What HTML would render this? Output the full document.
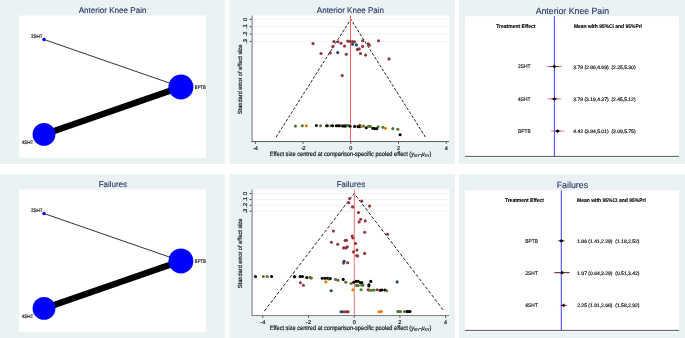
<!DOCTYPE html>
<html><head><meta charset="utf-8"><title>Network meta-analysis</title>
<style>
html,body{margin:0;padding:0;background:#fff;width:685px;height:338px;overflow:hidden}
svg{display:block;font-family:"Liberation Sans", sans-serif;will-change:transform;text-rendering:geometricPrecision}
</style></head><body>
<svg width="685" height="338" viewBox="0 0 685 338">
<rect x="0" y="0" width="685" height="338" fill="#fff"/>
<rect x="0" y="0" width="225" height="164" fill="#EAF2F3"/>
<rect x="19" y="15.5" width="187" height="142.3" fill="#fff"/>
<text x="78.65" y="13.1" font-size="8.2" fill="#1f2d5c" stroke="#1f2d5c" stroke-width="0.1" textLength="67.799" lengthAdjust="spacingAndGlyphs">Anterior Knee Pain</text>
<line x1="44" y1="39.5" x2="180.9" y2="87" stroke="#1a1a1a" stroke-width="0.9" />
<line x1="44" y1="134.5" x2="180.9" y2="87" stroke="#000" stroke-width="6.2" />
<circle cx="44" cy="39.5" r="1.7" fill="#0000ff"/>
<circle cx="180.9" cy="87" r="12.5" fill="#0000ff"/>
<circle cx="44" cy="134.4" r="11.4" fill="#0000ff"/>
<text x="30.9" y="37.9" font-size="4.9" fill="#111" stroke="#111" stroke-width="0.16" textLength="11.7" lengthAdjust="spacingAndGlyphs">2SHT</text>
<text x="194.8" y="88.75" font-size="5.2" fill="#111" stroke="#111" stroke-width="0.18" textLength="11.1" lengthAdjust="spacingAndGlyphs">BPTB</text>
<text x="21.7" y="144.0" font-size="4.9" fill="#111" stroke="#111" stroke-width="0.16" textLength="11.7" lengthAdjust="spacingAndGlyphs">4SHT</text>
<rect x="0" y="174" width="225" height="164" fill="#EAF2F3"/>
<rect x="19" y="189.5" width="187" height="142.3" fill="#fff"/>
<text x="98.65" y="187.1" font-size="8.2" fill="#1f2d5c" stroke="#1f2d5c" stroke-width="0.1" textLength="28.399" lengthAdjust="spacingAndGlyphs">Failures</text>
<line x1="44" y1="213.5" x2="180.9" y2="261" stroke="#1a1a1a" stroke-width="0.9" />
<line x1="44" y1="308.5" x2="180.9" y2="261" stroke="#000" stroke-width="6.2" />
<circle cx="44" cy="213.5" r="1.7" fill="#0000ff"/>
<circle cx="180.9" cy="261" r="12.5" fill="#0000ff"/>
<circle cx="44" cy="308.4" r="11.4" fill="#0000ff"/>
<text x="30.9" y="211.9" font-size="4.9" fill="#111" stroke="#111" stroke-width="0.16" textLength="11.7" lengthAdjust="spacingAndGlyphs">2SHT</text>
<text x="194.8" y="262.75" font-size="5.2" fill="#111" stroke="#111" stroke-width="0.18" textLength="11.1" lengthAdjust="spacingAndGlyphs">BPTB</text>
<text x="21.7" y="318.0" font-size="4.9" fill="#111" stroke="#111" stroke-width="0.16" textLength="11.7" lengthAdjust="spacingAndGlyphs">4SHT</text>
<rect x="229.5" y="0" width="225.5" height="164" fill="#EAF2F3"/>
<rect x="252" y="15.5" width="197" height="125.5" fill="#fff"/>
<line x1="252" y1="19.3" x2="449" y2="19.3" stroke="#e6eef0" stroke-width="0.7" />
<line x1="252" y1="26.68" x2="449" y2="26.68" stroke="#e6eef0" stroke-width="0.7" />
<line x1="252" y1="34.06" x2="449" y2="34.06" stroke="#e6eef0" stroke-width="0.7" />
<line x1="252" y1="41.44" x2="449" y2="41.44" stroke="#e6eef0" stroke-width="0.7" />
<text x="316.85" y="13.1" font-size="8.2" fill="#1f2d5c" stroke="#1f2d5c" stroke-width="0.1" textLength="67.199" lengthAdjust="spacingAndGlyphs">Anterior Knee Pain</text>
<polyline points="276.200,137.0 350.8,19.3 425.4,137.0" fill="none" stroke="#222" stroke-width="1.0" stroke-dasharray="2.9 1.7"/>
<line x1="350.5" y1="15.5" x2="350.5" y2="141.0" stroke="#ff5c5c" stroke-width="1.0" />
<circle cx="313.0" cy="43.6" r="1.55" fill="#90353b"/>
<circle cx="333.9" cy="41.5" r="1.55" fill="#90353b"/>
<circle cx="337.9" cy="41.8" r="1.55" fill="#90353b"/>
<circle cx="341.0" cy="43.3" r="1.55" fill="#90353b"/>
<circle cx="344.5" cy="46.0" r="1.55" fill="#90353b"/>
<circle cx="332.8" cy="46.6" r="1.55" fill="#90353b"/>
<circle cx="321.0" cy="53.5" r="1.55" fill="#90353b"/>
<circle cx="330.3" cy="52.9" r="1.55" fill="#90353b"/>
<circle cx="346.3" cy="54.2" r="1.55" fill="#90353b"/>
<circle cx="347.7" cy="41.1" r="1.55" fill="#90353b"/>
<circle cx="350.0" cy="41.5" r="1.55" fill="#90353b"/>
<circle cx="352.5" cy="41.5" r="1.55" fill="#90353b"/>
<circle cx="354.5" cy="41.8" r="1.55" fill="#90353b"/>
<circle cx="362.6" cy="40.8" r="1.55" fill="#90353b"/>
<circle cx="368.3" cy="43.8" r="1.55" fill="#90353b"/>
<circle cx="369.4" cy="45.3" r="1.55" fill="#90353b"/>
<circle cx="362.6" cy="46.4" r="1.55" fill="#90353b"/>
<circle cx="357.4" cy="49.4" r="1.55" fill="#90353b"/>
<circle cx="359.2" cy="48.9" r="1.55" fill="#90353b"/>
<circle cx="360.5" cy="53.5" r="1.55" fill="#90353b"/>
<circle cx="365.6" cy="55.1" r="1.55" fill="#90353b"/>
<circle cx="378.6" cy="40.8" r="1.55" fill="#90353b"/>
<circle cx="389.0" cy="58.9" r="1.55" fill="#90353b"/>
<circle cx="342.2" cy="75.6" r="1.55" fill="#90353b"/>
<circle cx="337.7" cy="52.6" r="1.55" fill="#1a476f"/>
<circle cx="352.6" cy="44.3" r="1.55" fill="#1a476f"/>
<circle cx="356.4" cy="44.9" r="1.55" fill="#1a476f"/>
<circle cx="295.4" cy="126.1" r="1.55" fill="#55752f"/>
<circle cx="302.3" cy="125.7" r="1.55" fill="#55752f"/>
<circle cx="306.3" cy="125.7" r="1.55" fill="#e37e00"/>
<circle cx="316.3" cy="125.5" r="1.55" fill="#000"/>
<circle cx="320.6" cy="125.7" r="1.55" fill="#55752f"/>
<circle cx="327.6" cy="125.7" r="1.55" fill="#55752f"/>
<circle cx="326.7" cy="125.7" r="1.55" fill="#000"/>
<circle cx="330.9" cy="125.7" r="1.55" fill="#55752f"/>
<circle cx="332.6" cy="125.7" r="1.55" fill="#000"/>
<circle cx="336.3" cy="125.7" r="1.55" fill="#000"/>
<circle cx="338.1" cy="125.7" r="1.55" fill="#000"/>
<circle cx="339.8" cy="125.7" r="1.55" fill="#000"/>
<circle cx="341.8" cy="125.7" r="1.55" fill="#55752f"/>
<circle cx="343.0" cy="126.0" r="1.55" fill="#000"/>
<circle cx="344.4" cy="126.0" r="1.55" fill="#000"/>
<circle cx="345.9" cy="125.9" r="1.55" fill="#000"/>
<circle cx="347.3" cy="125.5" r="1.55" fill="#55752f"/>
<circle cx="348.2" cy="125.5" r="1.55" fill="#55752f"/>
<circle cx="350.1" cy="126.3" r="1.55" fill="#000"/>
<circle cx="354.6" cy="126.4" r="1.55" fill="#000"/>
<circle cx="358.0" cy="126.6" r="1.55" fill="#000"/>
<circle cx="359.7" cy="125.3" r="1.55" fill="#55752f"/>
<circle cx="359.7" cy="126.8" r="1.55" fill="#000"/>
<circle cx="361.9" cy="126.2" r="1.55" fill="#e37e00"/>
<circle cx="363.6" cy="126.0" r="1.55" fill="#55752f"/>
<circle cx="366.3" cy="127.7" r="1.55" fill="#000"/>
<circle cx="368.5" cy="126.2" r="1.55" fill="#55752f"/>
<circle cx="370.2" cy="126.4" r="1.55" fill="#55752f"/>
<circle cx="372.8" cy="128.3" r="1.55" fill="#000"/>
<circle cx="374.6" cy="128.6" r="1.55" fill="#000"/>
<circle cx="376.8" cy="128.6" r="1.55" fill="#000"/>
<circle cx="378.1" cy="126.8" r="1.55" fill="#55752f"/>
<circle cx="382.9" cy="127.3" r="1.55" fill="#55752f"/>
<circle cx="385.5" cy="128.3" r="1.55" fill="#e37e00"/>
<circle cx="392.8" cy="128.6" r="1.55" fill="#55752f"/>
<circle cx="397.8" cy="129.3" r="1.55" fill="#55752f"/>
<circle cx="400.1" cy="134.8" r="1.55" fill="#000"/>
<rect x="251.2" y="15.5" width="1.8" height="126.5" fill="#a9b0b3"/>
<rect x="251.5" y="141.0" width="197.5" height="1.05" fill="#626262"/>
<line x1="249.6" y1="19.3" x2="251.5" y2="19.3" stroke="#333" stroke-width="0.9" />
<text x="0" y="0" font-size="5.7" fill="#111" stroke="#111" stroke-width="0.18" text-anchor="middle" transform="translate(247.2 19.3) rotate(-90)">0</text>
<line x1="249.6" y1="26.68" x2="251.5" y2="26.68" stroke="#333" stroke-width="0.9" />
<text x="0" y="0" font-size="5.7" fill="#111" stroke="#111" stroke-width="0.18" text-anchor="middle" transform="translate(247.2 26.68) rotate(-90)">.1</text>
<line x1="249.6" y1="34.06" x2="251.5" y2="34.06" stroke="#333" stroke-width="0.9" />
<text x="0" y="0" font-size="5.7" fill="#111" stroke="#111" stroke-width="0.18" text-anchor="middle" transform="translate(247.2 34.06) rotate(-90)">.2</text>
<line x1="249.6" y1="41.44" x2="251.5" y2="41.44" stroke="#333" stroke-width="0.9" />
<text x="0" y="0" font-size="5.7" fill="#111" stroke="#111" stroke-width="0.18" text-anchor="middle" transform="translate(247.2 41.44) rotate(-90)">.3</text>
<line x1="255.4" y1="141.8" x2="255.4" y2="143.8" stroke="#444" stroke-width="0.9" />
<text x="255.4" y="149.7" font-size="5.5" fill="#111" stroke="#111" stroke-width="0.18" text-anchor="middle" font-weight="normal" >-4</text>
<line x1="303.1" y1="141.8" x2="303.1" y2="143.8" stroke="#444" stroke-width="0.9" />
<text x="303.1" y="149.7" font-size="5.5" fill="#111" stroke="#111" stroke-width="0.18" text-anchor="middle" font-weight="normal" >-2</text>
<line x1="350.8" y1="141.8" x2="350.8" y2="143.8" stroke="#444" stroke-width="0.9" />
<text x="350.8" y="149.7" font-size="5.5" fill="#111" stroke="#111" stroke-width="0.18" text-anchor="middle" font-weight="normal" >0</text>
<line x1="398.5" y1="141.8" x2="398.5" y2="143.8" stroke="#444" stroke-width="0.9" />
<text x="398.5" y="149.7" font-size="5.5" fill="#111" stroke="#111" stroke-width="0.18" text-anchor="middle" font-weight="normal" >2</text>
<line x1="446.200" y1="141.8" x2="446.200" y2="143.8" stroke="#444" stroke-width="0.9" />
<text x="446.200" y="149.7" font-size="5.5" fill="#111" stroke="#111" stroke-width="0.18" text-anchor="middle" font-weight="normal" >4</text>
<text x="269.7" y="155.6" font-size="6.3" fill="#111" stroke="#111" stroke-width="0.18" textLength="161.6" lengthAdjust="spacingAndGlyphs">Effect size centred at comparison-specific pooled effect (<tspan font-style="italic">y</tspan><tspan font-size="4.0" dy="1.3">iXY</tspan><tspan dy="-1.3">-</tspan><tspan font-style="italic">&#956;</tspan><tspan font-size="4.0" dy="1.3">XY</tspan><tspan dy="-1.3">)</tspan></text>
<text x="0" y="0" font-size="5.95" fill="#111" stroke="#111" stroke-width="0.18" textLength="69.6" lengthAdjust="spacingAndGlyphs" transform="translate(241.9 114.15) rotate(-90)">Standard error of effect size</text>
<rect x="229.5" y="174" width="225.5" height="164" fill="#EAF2F3"/>
<rect x="252" y="189.5" width="197" height="125.5" fill="#fff"/>
<line x1="252" y1="193.5" x2="449" y2="193.5" stroke="#e6eef0" stroke-width="0.7" />
<line x1="252" y1="199.4" x2="449" y2="199.4" stroke="#e6eef0" stroke-width="0.7" />
<line x1="252" y1="205.3" x2="449" y2="205.3" stroke="#e6eef0" stroke-width="0.7" />
<line x1="252" y1="211.2" x2="449" y2="211.2" stroke="#e6eef0" stroke-width="0.7" />
<text x="336.65" y="187.1" font-size="8.2" fill="#1f2d5c" stroke="#1f2d5c" stroke-width="0.1" textLength="28.5" lengthAdjust="spacingAndGlyphs">Failures</text>
<polyline points="264.4,311.0 354.2,193.5 444.0,311.0" fill="none" stroke="#222" stroke-width="1.0" stroke-dasharray="3.3 1.9"/>
<line x1="354.3" y1="189.5" x2="354.3" y2="315.0" stroke="#ff7878" stroke-width="1.0" />
<circle cx="349.6" cy="198.6" r="1.55" fill="#90353b"/>
<circle cx="348.8" cy="202.7" r="1.55" fill="#90353b"/>
<circle cx="361.8" cy="201.0" r="1.55" fill="#90353b"/>
<circle cx="352.5" cy="206.9" r="1.55" fill="#90353b"/>
<circle cx="369.6" cy="206.1" r="1.55" fill="#90353b"/>
<circle cx="358.5" cy="212.6" r="1.55" fill="#90353b"/>
<circle cx="360.7" cy="219.3" r="1.55" fill="#90353b"/>
<circle cx="365.2" cy="220.9" r="1.55" fill="#90353b"/>
<circle cx="359.2" cy="221.9" r="1.55" fill="#90353b"/>
<circle cx="333.4" cy="231.1" r="1.55" fill="#90353b"/>
<circle cx="364.7" cy="232.3" r="1.55" fill="#90353b"/>
<circle cx="387.6" cy="234.2" r="1.55" fill="#90353b"/>
<circle cx="352.2" cy="236.1" r="1.55" fill="#90353b"/>
<circle cx="352.8" cy="238.0" r="1.55" fill="#90353b"/>
<circle cx="345.1" cy="240.5" r="1.55" fill="#90353b"/>
<circle cx="346.6" cy="240.2" r="1.55" fill="#90353b"/>
<circle cx="331.4" cy="242.3" r="1.55" fill="#90353b"/>
<circle cx="337.7" cy="244.2" r="1.55" fill="#90353b"/>
<circle cx="355.5" cy="243.5" r="1.55" fill="#90353b"/>
<circle cx="343.6" cy="247.9" r="1.55" fill="#90353b"/>
<circle cx="345.8" cy="247.9" r="1.55" fill="#90353b"/>
<circle cx="347.3" cy="246.9" r="1.55" fill="#90353b"/>
<circle cx="356.9" cy="250.1" r="1.55" fill="#90353b"/>
<circle cx="353.5" cy="251.9" r="1.55" fill="#90353b"/>
<circle cx="364.6" cy="253.4" r="1.55" fill="#90353b"/>
<circle cx="356.6" cy="255.6" r="1.55" fill="#90353b"/>
<circle cx="357.7" cy="256.0" r="1.55" fill="#90353b"/>
<circle cx="343.6" cy="263.1" r="1.55" fill="#90353b"/>
<circle cx="347.6" cy="262.7" r="1.55" fill="#90353b"/>
<circle cx="300.4" cy="282.7" r="1.55" fill="#90353b"/>
<circle cx="303.4" cy="285.2" r="1.55" fill="#90353b"/>
<circle cx="368.2" cy="289.8" r="1.55" fill="#90353b"/>
<circle cx="377.3" cy="289.8" r="1.55" fill="#90353b"/>
<circle cx="342.9" cy="311.7" r="1.55" fill="#90353b"/>
<circle cx="345.0" cy="311.7" r="1.55" fill="#90353b"/>
<circle cx="347.0" cy="311.7" r="1.55" fill="#90353b"/>
<circle cx="348.1" cy="311.7" r="1.55" fill="#90353b"/>
<circle cx="255.5" cy="276.5" r="1.55" fill="#000"/>
<circle cx="263.3" cy="276.5" r="1.55" fill="#55752f"/>
<circle cx="267.3" cy="276.5" r="1.55" fill="#55752f"/>
<circle cx="271.6" cy="276.5" r="1.55" fill="#000"/>
<circle cx="294.6" cy="277.0" r="1.55" fill="#55752f"/>
<circle cx="294.4" cy="276.5" r="1.55" fill="#000"/>
<circle cx="300.1" cy="276.5" r="1.55" fill="#000"/>
<circle cx="302.4" cy="276.5" r="1.55" fill="#000"/>
<circle cx="306.8" cy="277.5" r="1.55" fill="#000"/>
<circle cx="309.9" cy="277.4" r="1.55" fill="#55752f"/>
<circle cx="311.4" cy="278.1" r="1.55" fill="#55752f"/>
<circle cx="322.3" cy="278.3" r="1.55" fill="#000"/>
<circle cx="325.0" cy="278.3" r="1.55" fill="#000"/>
<circle cx="327.6" cy="278.3" r="1.55" fill="#000"/>
<circle cx="329.0" cy="279.0" r="1.55" fill="#55752f"/>
<circle cx="330.3" cy="278.5" r="1.55" fill="#000"/>
<circle cx="325.9" cy="281.9" r="1.55" fill="#e37e00"/>
<circle cx="335.6" cy="279.4" r="1.55" fill="#55752f"/>
<circle cx="338.0" cy="280.3" r="1.55" fill="#55752f"/>
<circle cx="343.2" cy="279.4" r="1.55" fill="#000"/>
<circle cx="345.8" cy="282.3" r="1.55" fill="#55752f"/>
<circle cx="351.1" cy="283.5" r="1.55" fill="#55752f"/>
<circle cx="353.8" cy="282.3" r="1.55" fill="#000"/>
<circle cx="356.0" cy="281.4" r="1.55" fill="#000"/>
<circle cx="358.2" cy="281.2" r="1.55" fill="#000"/>
<circle cx="360.5" cy="282.7" r="1.55" fill="#000"/>
<circle cx="361.8" cy="282.6" r="1.55" fill="#000"/>
<circle cx="356.5" cy="285.4" r="1.55" fill="#55752f"/>
<circle cx="358.2" cy="285.6" r="1.55" fill="#55752f"/>
<circle cx="361.8" cy="285.2" r="1.55" fill="#55752f"/>
<circle cx="363.1" cy="285.0" r="1.55" fill="#55752f"/>
<circle cx="370.8" cy="281.4" r="1.55" fill="#000"/>
<circle cx="368.9" cy="284.7" r="1.55" fill="#000"/>
<circle cx="368.9" cy="285.9" r="1.55" fill="#000"/>
<circle cx="352.9" cy="289.8" r="1.55" fill="#e37e00"/>
<circle cx="361.1" cy="289.8" r="1.55" fill="#55752f"/>
<circle cx="369.8" cy="290.3" r="1.55" fill="#55752f"/>
<circle cx="372.0" cy="290.3" r="1.55" fill="#55752f"/>
<circle cx="374.2" cy="290.0" r="1.55" fill="#55752f"/>
<circle cx="380.4" cy="290.3" r="1.55" fill="#000"/>
<circle cx="381.7" cy="290.0" r="1.55" fill="#000"/>
<circle cx="384.8" cy="290.0" r="1.55" fill="#000"/>
<circle cx="386.6" cy="290.7" r="1.55" fill="#55752f"/>
<circle cx="344.1" cy="261.2" r="1.55" fill="#1a476f"/>
<circle cx="331.2" cy="290.7" r="1.55" fill="#1a476f"/>
<circle cx="397.1" cy="281.9" r="1.55" fill="#1a476f"/>
<circle cx="341.1" cy="311.7" r="1.55" fill="#1a476f"/>
<circle cx="379.1" cy="311.7" r="1.55" fill="#e37e00"/>
<circle cx="381.4" cy="311.5" r="1.55" fill="#e37e00"/>
<circle cx="397.8" cy="311.5" r="1.55" fill="#55752f"/>
<circle cx="399.5" cy="311.5" r="1.55" fill="#55752f"/>
<circle cx="400.5" cy="311.5" r="1.55" fill="#55752f"/>
<circle cx="404.5" cy="311.5" r="1.55" fill="#55752f"/>
<circle cx="407.1" cy="311.5" r="1.55" fill="#000"/>
<circle cx="408.6" cy="311.5" r="1.55" fill="#000"/>
<circle cx="410.0" cy="311.5" r="1.55" fill="#000"/>
<rect x="251.2" y="189.5" width="1.8" height="126.5" fill="#a9b0b3"/>
<rect x="251.5" y="315.0" width="197.5" height="1.05" fill="#848484"/>
<line x1="249.6" y1="193.5" x2="251.5" y2="193.5" stroke="#333" stroke-width="0.9" />
<text x="0" y="0" font-size="5.7" fill="#111" stroke="#111" stroke-width="0.18" text-anchor="middle" transform="translate(247.2 193.5) rotate(-90)">0</text>
<line x1="249.6" y1="199.4" x2="251.5" y2="199.4" stroke="#333" stroke-width="0.9" />
<text x="0" y="0" font-size="5.7" fill="#111" stroke="#111" stroke-width="0.18" text-anchor="middle" transform="translate(247.2 199.4) rotate(-90)">.1</text>
<line x1="249.6" y1="205.3" x2="251.5" y2="205.3" stroke="#333" stroke-width="0.9" />
<text x="0" y="0" font-size="5.7" fill="#111" stroke="#111" stroke-width="0.18" text-anchor="middle" transform="translate(247.2 205.3) rotate(-90)">.2</text>
<line x1="249.6" y1="211.2" x2="251.5" y2="211.2" stroke="#333" stroke-width="0.9" />
<text x="0" y="0" font-size="5.7" fill="#111" stroke="#111" stroke-width="0.18" text-anchor="middle" transform="translate(247.2 211.2) rotate(-90)">.3</text>
<line x1="262.799" y1="315.8" x2="262.799" y2="317.8" stroke="#444" stroke-width="0.9" />
<text x="262.799" y="323.7" font-size="5.5" fill="#111" stroke="#111" stroke-width="0.18" text-anchor="middle" font-weight="normal" >-4</text>
<line x1="308.5" y1="315.8" x2="308.5" y2="317.8" stroke="#444" stroke-width="0.9" />
<text x="308.5" y="323.7" font-size="5.5" fill="#111" stroke="#111" stroke-width="0.18" text-anchor="middle" font-weight="normal" >-2</text>
<line x1="354.2" y1="315.8" x2="354.2" y2="317.8" stroke="#444" stroke-width="0.9" />
<text x="354.2" y="323.7" font-size="5.5" fill="#111" stroke="#111" stroke-width="0.18" text-anchor="middle" font-weight="normal" >0</text>
<line x1="399.9" y1="315.8" x2="399.9" y2="317.8" stroke="#444" stroke-width="0.9" />
<text x="399.9" y="323.7" font-size="5.5" fill="#111" stroke="#111" stroke-width="0.18" text-anchor="middle" font-weight="normal" >2</text>
<line x1="445.6" y1="315.8" x2="445.6" y2="317.8" stroke="#444" stroke-width="0.9" />
<text x="445.6" y="323.7" font-size="5.5" fill="#111" stroke="#111" stroke-width="0.18" text-anchor="middle" font-weight="normal" >4</text>
<text x="269.7" y="329.6" font-size="6.3" fill="#111" stroke="#111" stroke-width="0.18" textLength="161.6" lengthAdjust="spacingAndGlyphs">Effect size centred at comparison-specific pooled effect (<tspan font-style="italic">y</tspan><tspan font-size="4.0" dy="1.3">iXY</tspan><tspan dy="-1.3">-</tspan><tspan font-style="italic">&#956;</tspan><tspan font-size="4.0" dy="1.3">XY</tspan><tspan dy="-1.3">)</tspan></text>
<text x="0" y="0" font-size="5.95" fill="#111" stroke="#111" stroke-width="0.18" textLength="69.6" lengthAdjust="spacingAndGlyphs" transform="translate(241.9 288.15) rotate(-90)">Standard error of effect size</text>
<rect x="459" y="0" width="226" height="164" fill="#EAF2F3"/>
<rect x="465" y="16.3" width="214" height="141.2" fill="#fff"/>
<text x="535.65" y="13.8" font-size="9.0" fill="#1f2d5c" stroke="#1f2d5c" stroke-width="0.1" textLength="73.399" lengthAdjust="spacingAndGlyphs">Anterior Knee Pain</text>
<text x="496.2" y="28.0" font-size="5.4" fill="#000" stroke="#000" stroke-width="0.1" textLength="39.299" lengthAdjust="spacingAndGlyphs" font-weight="bold">Treatment Effect</text>
<text x="573.9" y="28.2" font-size="5.4" fill="#000" stroke="#000" stroke-width="0.1" textLength="68.099" lengthAdjust="spacingAndGlyphs" font-weight="bold">Mean with 95%CI and 95%PrI</text>
<line x1="554.4" y1="16.3" x2="554.4" y2="156.4" stroke="#5050ff" stroke-width="1.1" />
<line x1="465" y1="156.4" x2="679" y2="156.4" stroke="#555" stroke-width="1.0" />
<line x1="546.75" y1="66.5" x2="562.0" y2="66.5" stroke="#e8506e" stroke-width="0.8" />
<line x1="549.8" y1="66.5" x2="558.949" y2="66.5" stroke="#222" stroke-width="0.8" />
<path d="M552.5,66.5 L554.4,64.6 L556.3,66.5 L554.4,68.4 Z" fill="#000"/>
<text x="518.0" y="68.45" font-size="5.3" fill="#111" stroke="#111" stroke-width="0.14" textLength="12.6" lengthAdjust="spacingAndGlyphs">2SHT</text>
<text x="573.3" y="68.55" font-size="5.0" fill="#111" stroke="#111" stroke-width="0.18" xml:space="preserve">3.78 (2.86,4.69)  (2.25,5.30)</text>
<line x1="547.75" y1="98.9" x2="561.1" y2="98.9" stroke="#e8506e" stroke-width="0.8" />
<line x1="551.449" y1="98.9" x2="557.35" y2="98.9" stroke="#222" stroke-width="0.8" />
<path d="M552.5,98.9 L554.4,97.0 L556.3,98.9 L554.4,100.800 Z" fill="#000"/>
<text x="518.0" y="100.850" font-size="5.3" fill="#111" stroke="#111" stroke-width="0.14" textLength="12.6" lengthAdjust="spacingAndGlyphs">4SHT</text>
<text x="573.3" y="100.95" font-size="5.0" fill="#111" stroke="#111" stroke-width="0.18" xml:space="preserve">3.78 (3.19,4.37)  (2.45,5.12)</text>
<line x1="550.949" y1="131.1" x2="564.25" y2="131.1" stroke="#e8506e" stroke-width="0.8" />
<line x1="554.699" y1="131.1" x2="560.55" y2="131.1" stroke="#222" stroke-width="0.8" />
<path d="M555.7,131.1 L557.6,129.2 L559.5,131.1 L557.6,133.0 Z" fill="#000"/>
<text x="518.0" y="133.049" font-size="5.3" fill="#111" stroke="#111" stroke-width="0.14" textLength="12.6" lengthAdjust="spacingAndGlyphs">BPTB</text>
<text x="573.3" y="133.15" font-size="5.0" fill="#111" stroke="#111" stroke-width="0.18" xml:space="preserve">4.42 (3.84,5.01)  (3.09,5.75)</text>
<rect x="459" y="174" width="226" height="164" fill="#EAF2F3"/>
<rect x="465" y="190.3" width="214" height="141.2" fill="#fff"/>
<text x="556.65" y="187.8" font-size="9.0" fill="#1f2d5c" stroke="#1f2d5c" stroke-width="0.1" textLength="31.5" lengthAdjust="spacingAndGlyphs">Failures</text>
<text x="504.900" y="202.0" font-size="5.4" fill="#000" stroke="#000" stroke-width="0.1" textLength="39.099" lengthAdjust="spacingAndGlyphs" font-weight="bold">Treatment Effect</text>
<text x="577.0" y="202.2" font-size="5.4" fill="#000" stroke="#000" stroke-width="0.1" textLength="68.799" lengthAdjust="spacingAndGlyphs" font-weight="bold">Mean with 95%CI and 95%PrI</text>
<line x1="561.3" y1="190.3" x2="561.3" y2="330.4" stroke="#5050ff" stroke-width="1.1" />
<line x1="465" y1="330.4" x2="679" y2="330.4" stroke="#555" stroke-width="1.0" />
<line x1="557.67" y1="240.8" x2="565.04" y2="240.8" stroke="#e8506e" stroke-width="0.8" />
<line x1="558.935" y1="240.8" x2="563.775" y2="240.8" stroke="#222" stroke-width="0.8" />
<path d="M559.51,240.8 L561.41,238.9 L563.31,240.8 L561.41,242.700 Z" fill="#000"/>
<text x="525.300" y="242.75" font-size="5.3" fill="#111" stroke="#111" stroke-width="0.14" textLength="12.6" lengthAdjust="spacingAndGlyphs">BPTB</text>
<text x="577.2" y="242.850" font-size="5.0" fill="#111" stroke="#111" stroke-width="0.18" xml:space="preserve">1.86 (1.41,2.29)  (1.18,2.52)</text>
<line x1="553.984" y1="272.7" x2="569.99" y2="272.7" stroke="#e8506e" stroke-width="0.8" />
<line x1="554.699" y1="272.7" x2="569.275" y2="272.7" stroke="#222" stroke-width="0.8" />
<path d="M560.115,272.7 L562.015,270.8 L563.915,272.7 L562.015,274.599 Z" fill="#000"/>
<text x="525.300" y="274.65" font-size="5.3" fill="#111" stroke="#111" stroke-width="0.14" textLength="12.6" lengthAdjust="spacingAndGlyphs">2SHT</text>
<text x="577.2" y="274.75" font-size="5.0" fill="#111" stroke="#111" stroke-width="0.18" xml:space="preserve">1.97 (0.64,3.29)  (0.51,3.42)</text>
<line x1="559.87" y1="305.4" x2="567.24" y2="305.4" stroke="#e8506e" stroke-width="0.8" />
<line x1="561.135" y1="305.4" x2="565.92" y2="305.4" stroke="#222" stroke-width="0.8" />
<path d="M561.655,305.4 L563.555,303.5 L565.454,305.4 L563.555,307.299 Z" fill="#000"/>
<text x="525.300" y="307.349" font-size="5.3" fill="#111" stroke="#111" stroke-width="0.14" textLength="12.6" lengthAdjust="spacingAndGlyphs">4SHT</text>
<text x="577.2" y="307.45" font-size="5.0" fill="#111" stroke="#111" stroke-width="0.18" xml:space="preserve">2.25 (1.81,2.68)  (1.58,2.92)</text>
</svg>
</body></html>
